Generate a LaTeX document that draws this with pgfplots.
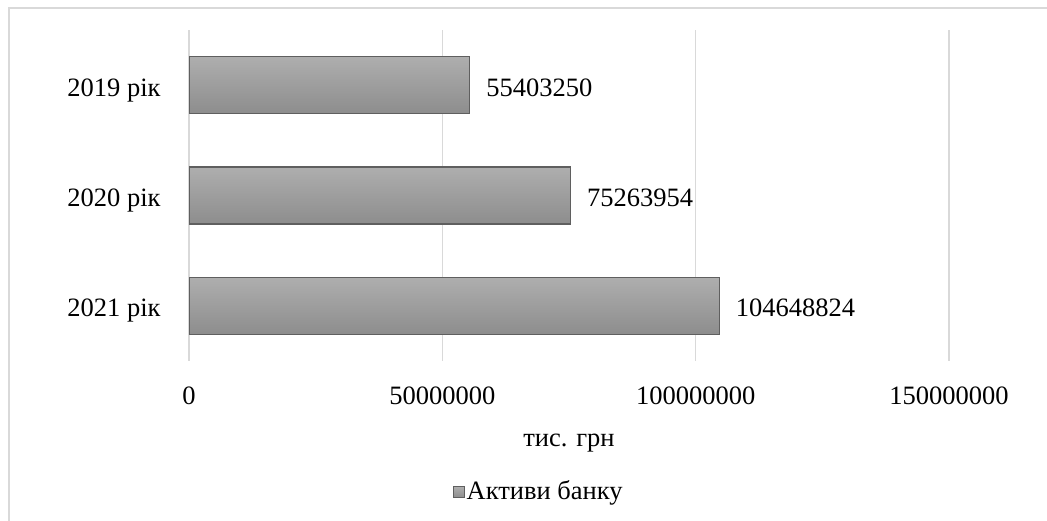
\documentclass[border=0pt]{standalone}
\usepackage{fontspec}
\setmainfont{Liberation Serif}
\usepackage{pgfplots}
\pgfplotsset{compat=1.18}
\definecolor{gridc}{RGB}{217,217,217}
\definecolor{bartop}{RGB}{174,174,174}
\definecolor{barbot}{RGB}{141,141,141}
\definecolor{barline}{RGB}{95,95,95}
\begin{document}
\fontsize{26.5}{30}\selectfont
\begin{tikzpicture}
\useasboundingbox (0pt,0pt) rectangle (1047pt,520pt);
\draw[color=gridc, line width=1.2pt] (9pt,-5pt) -- (9pt,512pt) -- (1060pt,512pt);
\begin{axis}[
  at={(189pt,159pt)}, anchor=south west,
  scale only axis, width=760pt, height=331pt,
  xbar, bar width=57pt, bar shift=0pt,
  xmin=0, xmax=150000000,
  ymin=-0.5, ymax=2.5, y dir=reverse,
  ytick={0,1,2}, yticklabels={2019 рік,2020 рік,2021 рік},
  xtick={0,50000000,100000000,150000000},
  scaled x ticks=false,
  /pgf/number format/assume math mode=true,
  xticklabel={\pgfmathprintnumber[fixed,precision=0,1000 sep={}]{\tick}},
  axis line style={draw=none},
  tick style={draw=none},
  xmajorgrids, grid style={color=gridc, line width=1.3pt},
  x tick label style={anchor=base, inner sep=0pt, yshift=-43pt},
  y tick label style={anchor=base east, inner sep=0pt, xshift=-24pt, yshift=-11pt},
  xlabel={тис. грн},
  xlabel style={at={(axis description cs:0.5,0)}, anchor=base, inner sep=0pt, yshift=-85pt},
  point meta=explicit symbolic,
  nodes near coords={\pgfplotspointmeta},
  nodes near coords style={anchor=base west, inner sep=0pt, xshift=16pt, yshift=-11pt},
  legend style={at={(axis description cs:0.46,-0.396)}, anchor=center, draw=none, fill=none, inner sep=0pt},
  legend image code/.code={\draw[draw=barline, line width=1pt, top color=bartop, bottom color=barbot] (0pt,-5.5pt) rectangle (11pt,5.5pt);},
]
\addplot[draw=barline, line width=1.4pt, top color=bartop, bottom color=barbot]
  coordinates {(55403250,0) [55403250]};
\addlegendentry{Активи банку}
\addplot[draw=barline, line width=1.4pt, top color=bartop, bottom color=barbot, forget plot]
  coordinates {(75263954,1) [75263954]};
\addplot[draw=barline, line width=1.4pt, top color=bartop, bottom color=barbot, forget plot]
  coordinates {(104648824,2) [104648824]};
\end{axis}
\end{tikzpicture}
\end{document}
